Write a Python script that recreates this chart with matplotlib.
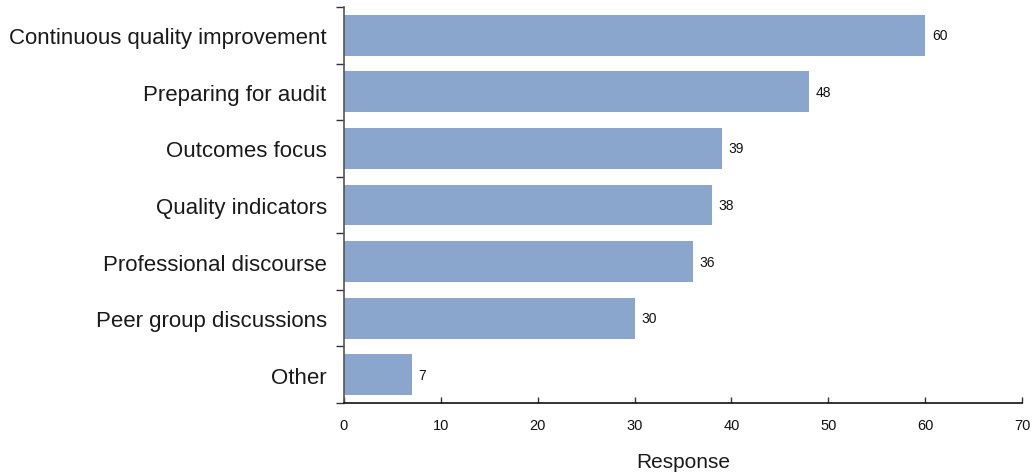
import matplotlib
matplotlib.use("Agg")
import matplotlib.pyplot as plt
import numpy as np

categories = [
    "Continuous quality improvement",
    "Preparing for audit",
    "Outcomes focus",
    "Quality indicators",
    "Professional discourse",
    "Peer group discussions",
    "Other",
]
values = [60, 48, 39, 38, 36, 30, 7]
x_ticks = [0, 10, 20, 30, 40, 50, 60, 70]

plt.rcParams["font.family"] = ["Liberation Sans", "DejaVu Sans"]

fig = plt.figure(figsize=(10.32, 4.77), dpi=100)
ax = fig.add_axes([344 / 1032, 1 - 404 / 477, (1022 - 344) / 1032, (404 - 8) / 477])

n = len(categories)
pos = np.arange(n)
ax.barh(pos, values, height=0.72, color="#8aa6cc", edgecolor="none", zorder=2)

for p, v in zip(pos, values):
    ax.text(v + 0.7, p, str(v), va="center", ha="left", fontsize=10, color="#111111")

ax.set_xlim(0, 70)
ax.set_ylim(n - 0.5, -0.5)

# category labels centred on bars, ticks at the boundaries between bars
ax.set_yticks(pos)
ax.set_yticklabels(categories, fontsize=16, color="#1a1a1a")
ax.tick_params(axis="y", which="major", length=0, pad=12.5)
ax.set_yticks(np.arange(-0.5, n, 1.0), minor=True)
ax.tick_params(axis="y", which="minor", length=6, width=1, direction="out", color="#333333")

ax.set_xticks(x_ticks)
ax.set_xticklabels([str(t) for t in x_ticks], fontsize=10.5, color="#111111")
ax.tick_params(axis="x", length=4, width=1, direction="in", pad=11, color="#333333")
ax.set_xlabel("Response", fontsize=15, labelpad=14, color="#1a1a1a")

for s in ["top", "right"]:
    ax.spines[s].set_visible(False)
ax.spines["left"].set_color("#555555")
ax.spines["bottom"].set_color("#111111")
ax.spines["left"].set_linewidth(1.2)
ax.spines["bottom"].set_linewidth(1.2)

fig.savefig("out.png", dpi=100)
